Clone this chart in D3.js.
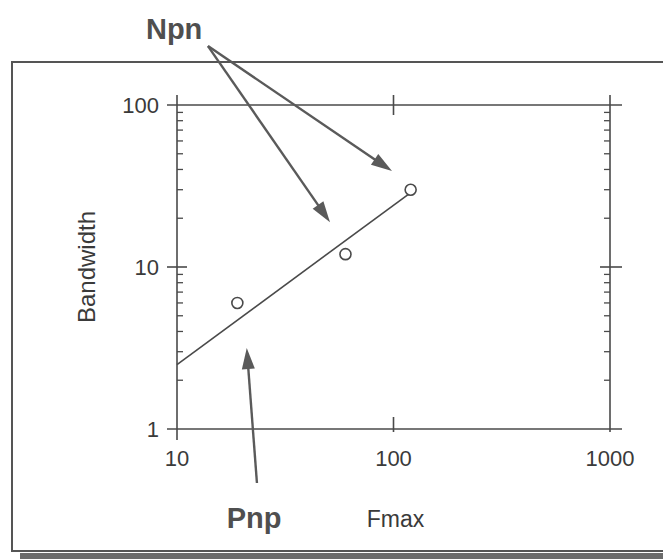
<!DOCTYPE html>
<html>
<head>
<meta charset="utf-8">
<script src="https://cdn.jsdelivr.net/npm/d3@7"></script>
<style>
body { margin: 0; background: #fff; }
svg { display: block; }
</style>
</head>
<body>
<svg width="663" height="559"></svg>
<script>
// measured points (Fmax, Bandwidth)
var fmax = [19, 60, 120];
var bandwidth = [6, 12, 30];
// fitted line end points
var fitFmax = [10, 118];
var fitBandwidth = [2.5, 28.3];
var xTicks = [10, 100, 1000];
var yTicks = [1, 10, 100];
var yMinor = [2, 3, 4, 5, 6, 7, 8, 9, 20, 30, 40, 50, 60, 70, 80, 90];
// annotations, in data units
var labels = ["Npn", "Pnp"];
var labelAt = [[9.7, 255], [22.7, 0.245]];
var arrowFrom = [[13.9, 231], [13.9, 231], [23.4, 0.464]];
var arrowTo = [[50.9, 18.9], [98.4, 39.1], [21.0, 3.16]];

var svg = d3.select("svg");
var ink = "#4a4a4a";

var x = d3.scaleLog().domain([10, 1000]).range([177, 610]);
var y = d3.scaleLog().domain([1, 100]).range([429, 105]);

// outer frame with shadow
svg.append("rect").attr("x", 20).attr("y", 553).attr("width", 660).attr("height", 6)
    .attr("fill", "#6b6b6b");
svg.append("rect").attr("x", 12).attr("y", 62).attr("width", 680).attr("height", 489)
    .attr("fill", "#fff").attr("stroke", "#555").attr("stroke-width", 2);

var g = svg.append("g").attr("stroke", ink).attr("stroke-width", 1.6).attr("fill", "none");

// axis lines
g.append("line").attr("x1", x(10)).attr("x2", x(10)).attr("y1", y(100) - 10).attr("y2", y(1) + 11);
g.append("line").attr("x1", x(1000)).attr("x2", x(1000)).attr("y1", y(100) - 10).attr("y2", y(1) + 3);
g.append("line").attr("x1", x(10) - 10).attr("x2", x(1000) + 12).attr("y1", y(100)).attr("y2", y(100));
g.append("line").attr("x1", x(10) - 10).attr("x2", x(1000) + 12).attr("y1", y(1)).attr("y2", y(1));

// major ticks
g.selectAll(".ly").data(yTicks.slice(1, 2)).enter().append("line")
    .attr("x1", x(10) - 10).attr("x2", x(10) + 10)
    .attr("y1", function(d) { return y(d); }).attr("y2", function(d) { return y(d); });
g.selectAll(".ry").data(yTicks.slice(1, 2)).enter().append("line")
    .attr("x1", x(1000) - 10).attr("x2", x(1000) + 12)
    .attr("y1", function(d) { return y(d); }).attr("y2", function(d) { return y(d); });
g.selectAll(".tx").data(xTicks.slice(1, 2)).enter().append("line")
    .attr("x1", function(d) { return x(d); }).attr("x2", function(d) { return x(d); })
    .attr("y1", y(100) - 10).attr("y2", y(100) + 10);
g.selectAll(".bx").data(xTicks.slice(1, 2)).enter().append("line")
    .attr("x1", function(d) { return x(d); }).attr("x2", function(d) { return x(d); })
    .attr("y1", y(1) - 12).attr("y2", y(1) + 3);

// minor ticks on the two vertical axes
g.selectAll(".lm").data(yMinor).enter().append("line")
    .attr("stroke-width", 1.3)
    .attr("x1", x(10)).attr("x2", x(10) + 6)
    .attr("y1", function(d) { return y(d); }).attr("y2", function(d) { return y(d); });
g.selectAll(".rm").data(yMinor).enter().append("line")
    .attr("stroke-width", 1.3)
    .attr("x1", x(1000) - 6).attr("x2", x(1000))
    .attr("y1", function(d) { return y(d); }).attr("y2", function(d) { return y(d); });

// tick labels
var font = "'Liberation Sans', Arial, sans-serif";
svg.selectAll(".yl").data(yTicks).enter().append("text")
    .attr("x", x(10) - 18).attr("y", function(d) { return y(d) + 8; })
    .attr("text-anchor", "end").attr("font-family", font).attr("font-size", 22)
    .attr("fill", "#3a3a3a").text(function(d) { return d; });
svg.selectAll(".xl").data(xTicks).enter().append("text")
    .attr("x", function(d) { return x(d); }).attr("y", y(1) + 37)
    .attr("text-anchor", "middle").attr("font-family", font).attr("font-size", 22)
    .attr("fill", "#3a3a3a").text(function(d) { return d; });

svg.append("text")
    .attr("transform", "translate(95," + ((y(1) + y(100)) / 2) + ") rotate(-90)")
    .attr("text-anchor", "middle").attr("font-family", font).attr("font-size", 24)
    .attr("fill", "#3a3a3a").text("Bandwidth");
svg.append("text")
    .attr("x", x(100) + 2).attr("y", 527)
    .attr("text-anchor", "middle").attr("font-family", font).attr("font-size", 23)
    .attr("fill", "#3a3a3a").text("Fmax");

// fitted line
svg.append("line")
    .attr("x1", x(fitFmax[0])).attr("y1", y(fitBandwidth[0]))
    .attr("x2", x(fitFmax[1])).attr("y2", y(fitBandwidth[1]))
    .attr("stroke", ink).attr("stroke-width", 1.6);

// points
svg.selectAll(".pt").data(fmax).enter().append("circle")
    .attr("cx", function(d) { return x(d); })
    .attr("cy", function(d, i) { return y(bandwidth[i]); })
    .attr("r", 5.5)
    .attr("fill", "#fff").attr("stroke", ink).attr("stroke-width", 1.6);

// arrows
var headLen = 21, headHalf = 6.5;
arrowFrom.forEach(function(f, i) {
  var x0 = x(f[0]), y0 = y(f[1]), x1 = x(arrowTo[i][0]), y1 = y(arrowTo[i][1]);
  var dx = x1 - x0, dy = y1 - y0, len = Math.sqrt(dx * dx + dy * dy);
  var ux = dx / len, uy = dy / len;
  var bx = x1 - ux * headLen, by = y1 - uy * headLen;
  svg.append("line")
      .attr("x1", x0).attr("y1", y0).attr("x2", bx + ux * 2).attr("y2", by + uy * 2)
      .attr("stroke", "#5a5a5a").attr("stroke-width", 2.4);
  svg.append("path")
      .attr("d", "M" + x1 + "," + y1 +
                 "L" + (bx - uy * headHalf) + "," + (by + ux * headHalf) +
                 "L" + (bx + uy * headHalf) + "," + (by - ux * headHalf) + "Z")
      .attr("fill", "#5a5a5a");
});

svg.selectAll(".lab").data(labels).enter().append("text")
    .attr("x", function(d, i) { return x(labelAt[i][0]); })
    .attr("y", function(d, i) { return y(labelAt[i][1]); })
    .attr("text-anchor", "middle").attr("font-family", font)
    .attr("font-size", 29).attr("font-weight", "bold")
    .attr("fill", "#4f4f4f").text(function(d) { return d; });
</script>
</body>
</html>
